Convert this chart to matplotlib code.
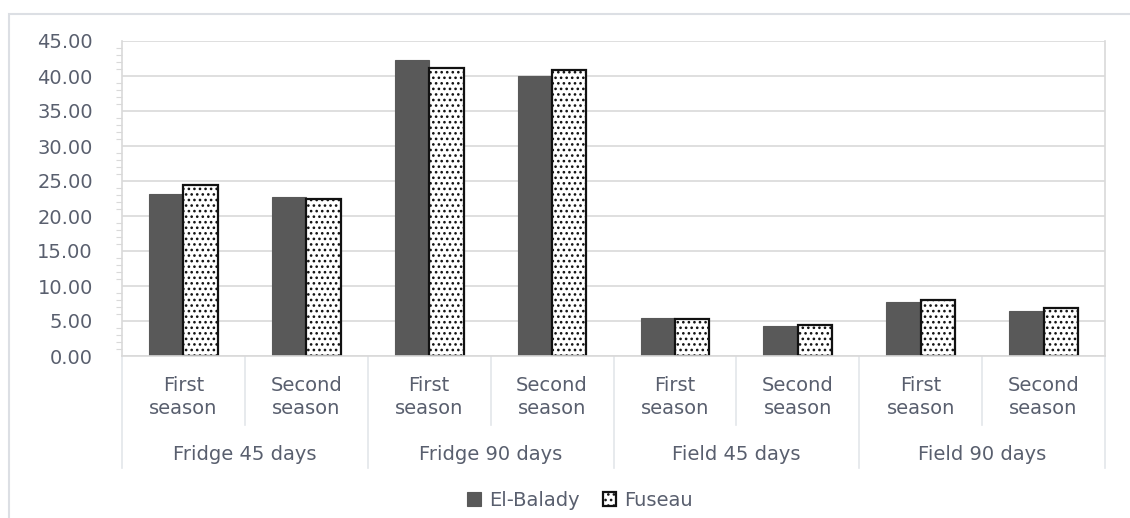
import matplotlib
matplotlib.use("Agg")
import matplotlib.pyplot as plt
from matplotlib.patches import Rectangle
import matplotlib.transforms as mtransforms

# Data
groups = ["Fridge 45 days", "Fridge 90 days", "Field 45 days", "Field 90 days"]
seasons = ["First\nseason", "Second\nseason"]
el_balady = [23.2, 22.7, 42.3, 40.0, 5.4, 4.3, 7.7, 6.4]
fuseau = [24.4, 22.4, 41.1, 40.9, 5.3, 4.4, 8.0, 6.9]
yticks = [0, 5, 10, 15, 20, 25, 30, 35, 40, 45]

TEXT = "#595f6e"
GRID = "#d9d9d9"
FS = 14
plt.rcParams["font.family"] = ["DejaVu Sans"]
plt.rcParams["hatch.linewidth"] = 1.1

W, H = 1130, 518
fig = plt.figure(figsize=(W / 100, H / 100), dpi=100)

# chart border
fig.patches.append(Rectangle((9 / W, -0.1), 1.2, (H - 14) / H + 0.1,
                             transform=fig.transFigure, fill=False,
                             edgecolor="#dcdfe4", linewidth=1.5))

left, right, top, bottom = 122, 1105, 41, 356
ax = fig.add_axes([left / W, (H - bottom) / H, (right - left) / W, (bottom - top) / H])

n = len(el_balady)
centers = [i + 0.5 for i in range(n)]
bw = 0.28
ax.bar([c - bw / 2 for c in centers], el_balady, width=bw, color="#595959",
       edgecolor="#595959", linewidth=0.8, label="El-Balady", zorder=3)
ax.bar([c + bw / 2 for c in centers], fuseau, width=bw, color="white",
       edgecolor="#111111", hatch="...", linewidth=1.6, label="Fuseau", zorder=3)

ax.set_xlim(0, n)
ax.set_ylim(0, 45)
ax.set_yticks(yticks)
ax.set_yticklabels([f"{v:.2f}" for v in yticks])
ax.set_yticks(range(0, 46), minor=True)
ax.tick_params(axis="y", which="major", length=0, labelsize=FS,
               labelcolor=TEXT, pad=21)
ax.tick_params(axis="y", which="minor", length=4, color=GRID, width=0.8)
ax.set_xticks([])
ax.grid(axis="y", color=GRID, linewidth=1.2, zorder=0)
for s in ["top", "bottom"]:
    ax.spines[s].set_visible(False)
ax.spines["left"].set_color(GRID)
ax.spines["right"].set_color(GRID)
ax.spines["left"].set_linewidth(1.2)
ax.spines["right"].set_linewidth(1.2)

# hierarchical category axis
trans = mtransforms.blended_transform_factory(ax.transData, ax.transAxes)
ph = bottom - top
season_y = -(397 - bottom) / ph
group_y = -(455 - bottom) / ph
season_div = -(425 - bottom) / ph
group_div = -(468 - bottom) / ph

for i, c in enumerate(centers):
    ax.text(c, season_y, seasons[i % 2], transform=trans, ha="center",
            va="center", fontsize=FS, color=TEXT, linespacing=1.3)
for g, name in enumerate(groups):
    ax.text(2 * g + 1, group_y, name, transform=trans, ha="center",
            va="center", fontsize=FS, color=TEXT)
for x in range(n + 1):
    yb = group_div if x % 2 == 0 else season_div
    ax.plot([x, x], [0, yb], transform=trans, color="#e3e6ea",
            linewidth=1.2, clip_on=False)
ax.plot([0, n], [0, 0], transform=trans, color=GRID, linewidth=1.2,
        clip_on=False, zorder=4)

fig.legend(loc="center", bbox_to_anchor=(580 / W, (H - 500) / H), ncol=2,
           frameon=False, fontsize=FS, labelcolor=TEXT, handlelength=0.7,
           handleheight=0.7, handletextpad=0.4, columnspacing=1.2)

fig.savefig("out.png", dpi=100)
